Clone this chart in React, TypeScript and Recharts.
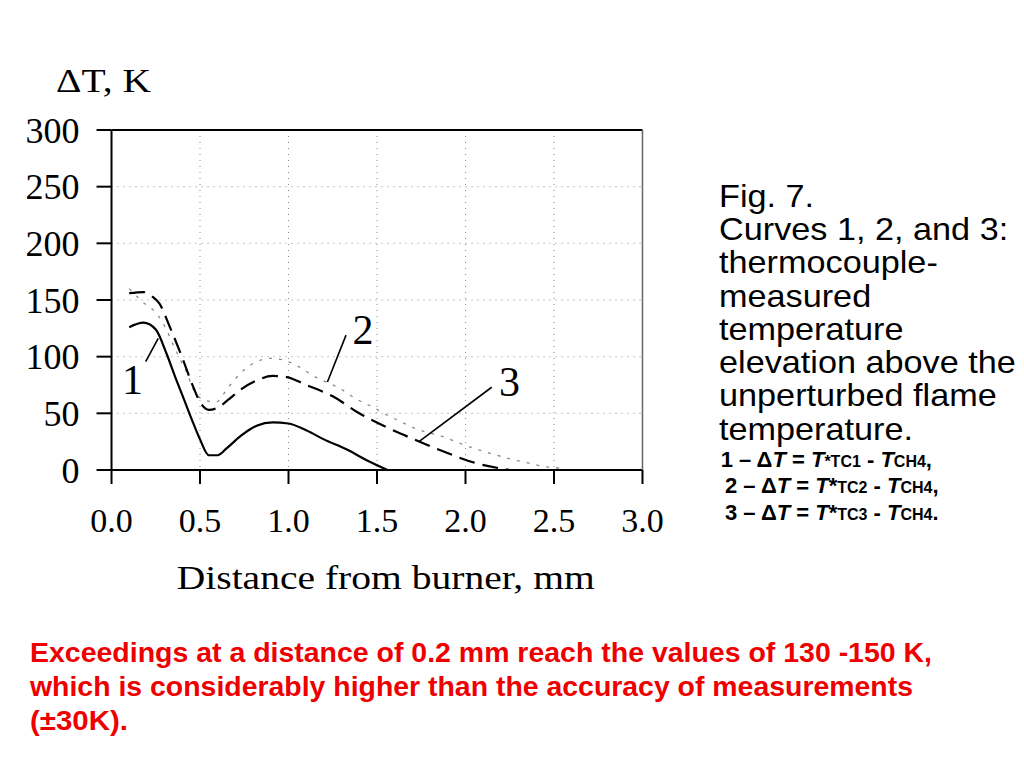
import {
  LineChart, Line, XAxis, YAxis, CartesianGrid, ReferenceLine, ReferenceDot,
} from "recharts";

// curve 1 (solid), distance in mm vs dT in K
const curve1X = [0.1, 0.18, 0.25, 0.31, 0.36, 0.41, 0.46, 0.5, 0.55, 0.6, 0.65, 0.73, 0.82, 0.91, 1.0, 1.1, 1.2, 1.33, 1.45, 1.56];
const curve1Y = [126, 130, 124, 103, 82, 62, 42, 27, 13, 13, 19, 30, 39, 42, 41, 35, 27, 18, 8, 0];

// curve 2 (dashed)
const curve2X = [0.1, 0.18, 0.23, 0.27, 0.33, 0.4, 0.46, 0.5, 0.55, 0.6, 0.66, 0.73, 0.82, 0.91, 0.99, 1.1, 1.25, 1.4, 1.55, 1.65, 1.88, 2.06, 2.25];
const curve2Y = [156, 157, 153, 147, 126, 99, 74, 60, 53, 55, 62, 71, 79, 83, 82, 75, 65, 50, 38, 31, 16, 6, 0];

// curve 3 (grey hatched)
const curve3X = [0.1, 0.17, 0.26, 0.31, 0.35, 0.39, 0.43, 0.46, 0.52, 0.59, 0.66, 0.74, 0.8, 0.9, 0.97, 1.06, 1.13, 1.3, 1.39, 1.47, 1.55, 1.63, 1.71, 1.88, 1.96, 2.11, 2.2, 2.27, 2.36, 2.44, 2.53, 2.56];
const curve3Y = [160, 149, 137, 124, 110, 97, 84, 72, 62, 60, 73, 87, 94, 98.5, 97, 91, 84, 71, 62, 56, 49, 43, 37, 29, 24, 16, 12, 9, 6, 3, 1.5, 0];

const xTicks = [0, 0.5, 1, 1.5, 2, 2.5, 3];
const xMinorTicks = [0, 0.1, 0.2, 0.3, 0.4, 0.5, 0.6, 0.7, 0.8, 0.9, 1, 1.1, 1.2, 1.3, 1.4, 1.5, 1.6, 1.7, 1.8, 1.9, 2, 2.1, 2.2, 2.3, 2.4, 2.5, 2.6, 2.7, 2.8, 2.9, 3];
const yTicks = [0, 50, 100, 150, 200, 250, 300];
const yMinorTicks = [0, 10, 20, 30, 40, 50, 60, 70, 80, 90, 100, 110, 120, 130, 140, 150, 160, 170, 180, 190, 200, 210, 220, 230, 240, 250, 260, 270, 280, 290, 300];
const yRightTicks = [300, 233, 166, 99];

// curve labels and their leader lines
const labelText = ["1", "2", "3"];
const labelPos = [{ x: 0.119, y: 80 }, { x: 1.421, y: 124 }, { x: 2.249, y: 78 }];
const leaders = [
  [{ x: 0.193, y: 95.6 }, { x: 0.264, y: 116.2 }],
  [{ x: 1.325, y: 119 }, { x: 1.22, y: 77.6 }],
  [{ x: 2.148, y: 73 }, { x: 1.737, y: 25 }],
];

const captionLines = [
  "Fig. 7.",
  "Curves 1, 2, and 3:",
  "thermocouple-",
  "measured",
  "temperature",
  "elevation above the",
  "unperturbed flame",
  "temperature.",
];
const noteLines = [
  "Exceedings at a distance of 0.2 mm reach the values of 130 -150 K,",
  "which is considerably higher than the accuracy of measurements",
  "(±30K).",
];
const noteWidths = [902, 883, 98];

const toPoints = (xs: number[], ys: number[]) => xs.map((x, i) => ({ x, y: ys[i] }));
const data1 = toPoints(curve1X, curve1Y);
const data2 = toPoints(curve2X, curve2Y);
const data3 = toPoints(curve3X, curve3Y);

const SERIF = "'Liberation Serif', 'Times New Roman', serif";
const SANS = "'Liberation Sans', Arial, Helvetica, sans-serif";
const THIN = 0.01; // axes need a non-zero size to render

export default function App() {
  return (
    <div style={{ position: "absolute", left: 0, top: 0, width: 1024, height: 768, background: "#fff" }}>
      <LineChart
        width={1024}
        height={768}
        margin={{ top: 130, right: 381.5, bottom: 298, left: 111.5 }}
      >
        <CartesianGrid stroke="#8a8a8a" strokeDasharray="1 5" strokeWidth={1} />
        <XAxis
          dataKey="x" type="number" domain={[0, 3]} ticks={xTicks} interval={0}
          height={THIN} allowDataOverflow
          tickFormatter={(v: number) => v.toFixed(1)}
          tick={{ fontSize: 34, fontFamily: SERIF, fill: "#000" }} tickSize={14} tickMargin={24}
          axisLine={{ stroke: "#000", strokeWidth: 2 }}
          tickLine={{ stroke: "#000", strokeWidth: 2 }}
        />
        <XAxis
          xAxisId="minor" dataKey="x" type="number" domain={[0, 3]} ticks={xMinorTicks} interval={0}
          height={THIN} allowDataOverflow tick={false} tickSize={6} axisLine={false}
          tickLine={{ stroke: "#000", strokeWidth: 2 }}
        />
        <YAxis
          type="number" domain={[0, 300]} ticks={yTicks} interval={0} width={THIN} allowDataOverflow
          tick={{ fontSize: 36, fontFamily: SERIF, fill: "#000" }} tickSize={15} tickMargin={17}
          axisLine={{ stroke: "#000", strokeWidth: 2 }}
          tickLine={{ stroke: "#000", strokeWidth: 2 }}
        />
        <YAxis
          yAxisId="minor" type="number" domain={[0, 300]} ticks={yMinorTicks} interval={0} width={THIN}
          allowDataOverflow tick={false} tickSize={8} axisLine={false}
          tickLine={{ stroke: "#000", strokeWidth: 2 }}
        />
        <YAxis
          yAxisId="rightMinor" orientation="right" mirror type="number" domain={[0, 300]}
          ticks={yMinorTicks} interval={0} width={THIN} allowDataOverflow tick={false} tickSize={3}
          axisLine={false} tickLine={{ stroke: "#888", strokeWidth: 1 }}
        />
        <YAxis
          yAxisId="right" orientation="right" type="number" domain={[0, 300]} ticks={yRightTicks}
          interval={0} width={THIN} allowDataOverflow tick={false} tickSize={8}
          axisLine={{ stroke: "#666", strokeWidth: 1.5 }}
          tickLine={{ stroke: "#555", strokeWidth: 1.5 }}
        />
        <ReferenceLine y={300} stroke="#000" strokeWidth={2} />

        <Line data={data3} dataKey="y" type="monotone" stroke="#8a8a8a" strokeWidth={1.3}
          strokeDasharray="3 7" dot={false} isAnimationActive={false} />
        <Line data={data1} dataKey="y" type="monotone" stroke="#000" strokeWidth={2.2}
          dot={false} isAnimationActive={false} />
        <Line data={data2} dataKey="y" type="monotone" stroke="#000" strokeWidth={2.2}
          strokeDasharray="16 8" dot={false} isAnimationActive={false} />

        {leaders.map((seg, i) => (
          <ReferenceLine key={`l${i}`} segment={seg} stroke="#000" strokeWidth={1.6} />
        ))}
        {labelPos.map((p, i) => (
          <ReferenceDot
            key={`d${i}`} x={p.x} y={p.y} r={0} fill="none" stroke="none"
            label={{ value: labelText[i], position: "center", fontSize: 42, fontFamily: SERIF, fill: "#000" }}
          />
        ))}
      </LineChart>

      <svg width={1024} height={768} style={{ position: "absolute", left: 0, top: 0, pointerEvents: "none" }}>
        <text x={56} y={91.7} fontFamily={SERIF} fontSize={33} textLength={95} lengthAdjust="spacingAndGlyphs" fill="#000">
          ΔT, K
        </text>
        <text x={176.7} y={589.3} fontFamily={SERIF} fontSize={34} textLength={418} lengthAdjust="spacingAndGlyphs" fill="#000">
          Distance from burner, mm
        </text>

        <g transform="translate(719,0) scale(1.07,1)">
          {captionLines.map((t, i) => (
            <text key={t + i} x={0} y={206.7 + i * 33.3} fontFamily={SANS} fontSize={32} fill="#000">{t}</text>
          ))}
        </g>

        <g fontFamily={SANS} fontWeight="bold" fontSize={22} fill="#000">
          <text x={720.7} y={466.7}>
            1 – Δ<tspan fontStyle="italic">T</tspan> = <tspan fontStyle="italic">T</tspan>
            <tspan fontSize={16}>*TC1</tspan> - <tspan fontStyle="italic">T</tspan><tspan fontSize={16}>CH4</tspan>,
          </text>
          <text x={725} y={493.3}>
            2 – Δ<tspan fontStyle="italic">T</tspan> = <tspan fontStyle="italic">T</tspan>*
            <tspan fontSize={16}>TC2</tspan> - <tspan fontStyle="italic">T</tspan><tspan fontSize={16}>CH4</tspan>,
          </text>
          <text x={725} y={520}>
            3 – Δ<tspan fontStyle="italic">T</tspan> = <tspan fontStyle="italic">T</tspan>*
            <tspan fontSize={16}>TC3</tspan> - <tspan fontStyle="italic">T</tspan><tspan fontSize={16}>CH4</tspan>.
          </text>
        </g>

        {noteLines.map((t, i) => (
          <text key={t} x={30} y={662 + i * 34} fontFamily={SANS} fontWeight="bold" fontSize={28}
            textLength={noteWidths[i]} lengthAdjust="spacingAndGlyphs" fill="#ee0000">
            {t}
          </text>
        ))}
      </svg>
    </div>
  );
}
